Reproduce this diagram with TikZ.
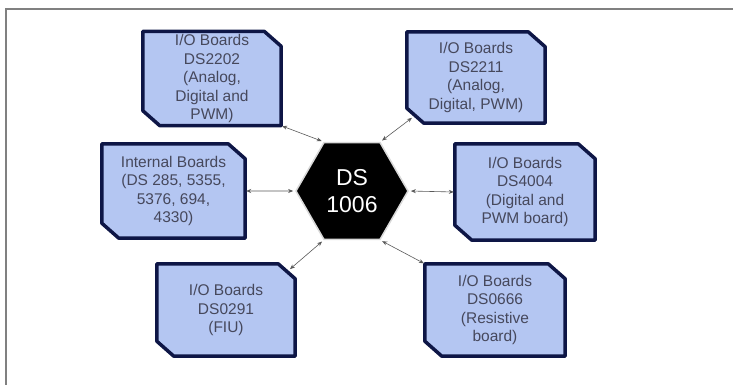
\documentclass[tikz,border=0pt]{standalone}
\usepackage{fontspec}
\setmainfont{Liberation Sans}
\usetikzlibrary{shapes.geometric,arrows.meta,backgrounds}
\definecolor{boardfill}{RGB}{180,198,242}
\definecolor{boardline}{RGB}{14,22,70}
\definecolor{boardtext}{RGB}{70,72,92}
\tikzset{
  board/.style={rectangle,text=boardtext,align=center,inner sep=0pt,
    font=\fontsize{15.5}{18.5}\selectfont},
  boardshape/.style={draw=boardline,line width=3.5pt,line join=round,fill=boardfill},
  link/.style={<->,>={Stealth[length=5pt,width=4pt]},draw=gray!70!black,line width=0.6pt,
    shorten <=1pt,shorten >=2pt}
}
\begin{document}
\begin{tikzpicture}[x=1pt,y=-1pt]
\useasboundingbox (0,0) rectangle (733,385);
% frame
\draw[gray,line width=1.5pt] (6,385) -- (6,9) -- (733,9);
% centre
\node[regular polygon,regular polygon sides=6,minimum size=112pt,inner sep=0pt,
  fill=black,draw=gray!30,line width=1.5pt,text=white,align=center,
  font=\fontsize{23}{27}\selectfont] (ds1006) at (352,191) {DS\\1006};
% boards
\node[board,minimum width=138pt,minimum height=94pt] (b2202) at (212,78.5) {I/O Boards\\DS2202\\(Analog,\\Digital and\\PWM)};
\node[board,minimum width=138pt,minimum height=91pt] (b2211) at (476,77.5) {I/O Boards\\DS2211\\(Analog,\\Digital, PWM)};
\node[board,minimum width=143pt,minimum height=94pt] (bint) at (173.5,191) {Internal Boards\\(DS 285, 5355,\\5376, 694,\\4330)};
\node[board,minimum width=140pt,minimum height=96pt] (b4004) at (525,192) {I/O Boards\\DS4004\\(Digital and\\PWM board)};
\node[board,minimum width=138pt,minimum height=92pt] (b0291) at (226,310) {I/O Boards\\DS0291\\(FIU)};
\node[board,minimum width=140pt,minimum height=92pt] (b0666) at (495,310) {I/O Boards\\DS0666\\(Resistive\\board)};
% chamfered outlines behind the text
\begin{scope}[on background layer]
\foreach \b in {b2202,b2211,bint,b4004,b0291,b0666}
  \draw[boardshape] (\b.north west) -- ([xshift=-17pt]\b.north east) -- ([yshift=-15pt]\b.north east)
    -- (\b.south east) -- ([xshift=17pt]\b.south west) -- ([yshift=15pt]\b.south west) -- cycle;
\end{scope}
% links
\draw[link] (b2202.south east) -- (ds1006.120);
\draw[link] ([xshift=6pt,yshift=6pt]b2211.south west) -- (ds1006.60);
\draw[link] (bint.east) -- (ds1006.west);
\draw[link] (b4004.west) -- (ds1006.east);
\draw[link] ([xshift=-6pt,yshift=-6pt]b0291.north east) -- (ds1006.240);
\draw[link] (b0666.north west) -- (ds1006.300);
\end{tikzpicture}
\end{document}
